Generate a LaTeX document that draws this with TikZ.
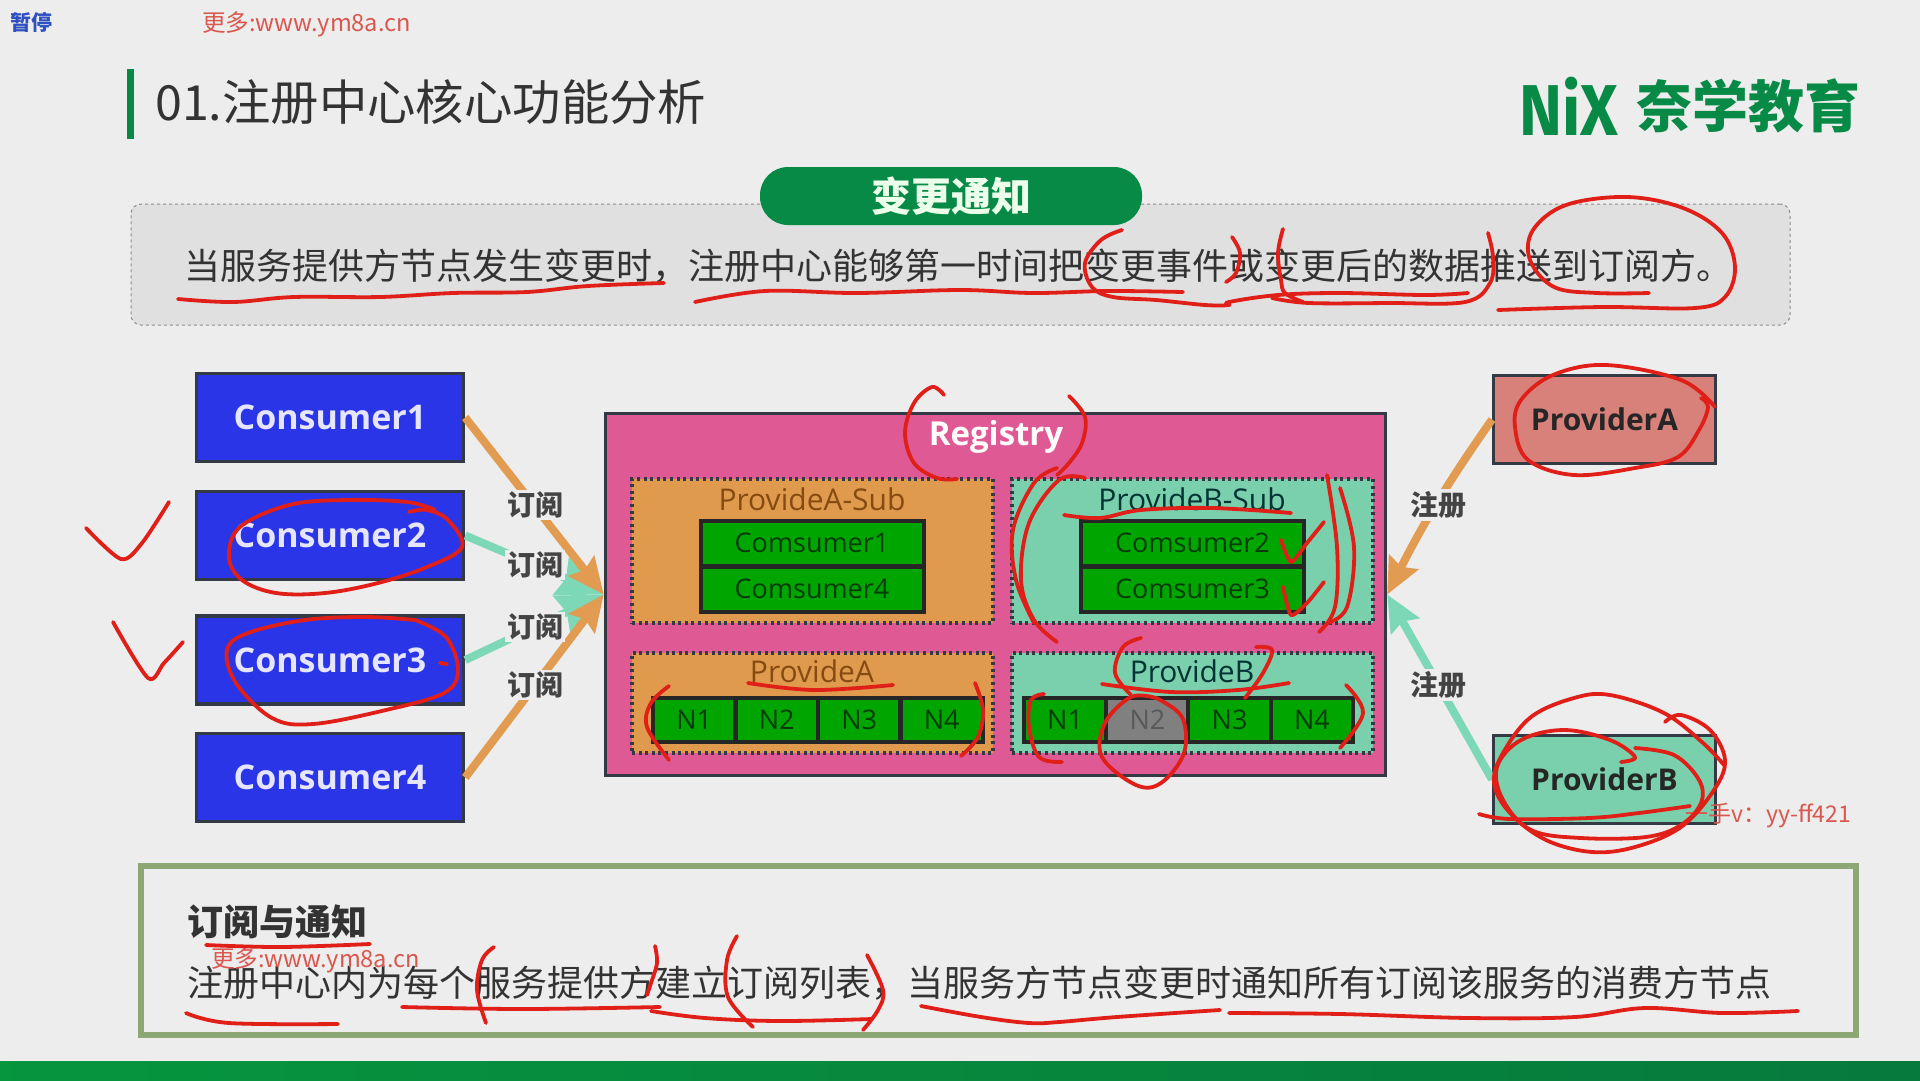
\documentclass[tikz,border=0pt]{standalone}
\usepackage{fontspec}
\usetikzlibrary{arrows.meta}
\setmainfont{Noto Sans CJK SC}
\newfontfamily\lat{Open Sans}
\newfontfamily\logofont{Fira Sans}
\newcommand\fsz[1]{\fontsize{#1}{#1}\selectfont}
\definecolor{pagebg}{HTML}{EDEDED}
\definecolor{boxbg}{HTML}{E0E0E0}
\definecolor{brandgreen}{HTML}{078A45}
\definecolor{inkred}{HTML}{DF1F18}
\definecolor{markred}{HTML}{D9574E}
\definecolor{txtdark}{HTML}{333333}
\definecolor{labeldark}{HTML}{444444}
\definecolor{edge}{HTML}{333A44}
\definecolor{blueN}{HTML}{2B35E8}
\definecolor{pinkN}{HTML}{DF5A95}
\definecolor{orangeN}{HTML}{E09A4E}
\definecolor{tealN}{HTML}{7AD0AC}
\definecolor{greenN}{HTML}{00A500}
\definecolor{greenT}{HTML}{033D05}
\definecolor{greyN}{HTML}{808080}
\definecolor{salmonN}{HTML}{D8807A}
\definecolor{oliveB}{HTML}{8EA875}
\definecolor{orangeA}{HTML}{E29C52}
\definecolor{tealA}{HTML}{7CD8B6}
\definecolor{pauseblue}{HTML}{2F50C0}
\tikzset{
  redink/.style={draw=inkred,line width=3.8,line cap=round,line join=round},
  consumerbox/.style={draw=edge,line width=3.5,fill=blueN,minimum width=267,minimum height=88,text=blue!10!white,font=\lat\bfseries\fsz{34}},
  providerbox/.style={draw=edge,line width=3,minimum width=222,minimum height=88,text=black!85,font=\lat\bfseries\fsz{30}},
  groupbox/.style={draw=edge,line width=3.5,dash pattern=on 3pt off 3.6pt,minimum width=361},
  memberbox/.style={draw=black!85,line width=4,fill=greenN,minimum width=223,minimum height=45,text=greenT,font=\lat\fsz{27}},
  cellbox/.style={draw=black!85,line width=4,fill=greenN,minimum width=82.4,minimum height=44,text=greenT,font=\lat\fsz{27}},
  grouplabel/.style={font=\lat\fsz{30}},
  linkarrow/.style={line width=8,-{Stealth[length=36pt,width=32pt,inset=5pt]}},
  tealarrow/.style={line width=8,-{Stealth[length=46pt,width=40pt,inset=5pt]}},
  linklabel/.style={fill=pagebg,inner sep=2pt,text=labeldark,font=\bfseries\fsz{28}},
  bodytext/.style={anchor=west,inner sep=0,text=txtdark,font=\fsz{36}},
  watermark/.style={inner sep=0,text=markred,font=\fsz{23.6}}
}
\begin{document}
\begin{tikzpicture}[x=1pt,y=-1pt]
\useasboundingbox (0,0) rectangle (1920,1080);
\fill[pagebg] (0,0) rectangle (1920,1080);
% header
\fill[brandgreen] (127,69) rectangle (134,139);
\node[anchor=west,inner sep=0,text=black!80,font=\fsz{48.4}] (title) at (155,102) {01.注册中心核心功能分析};
\node[inner sep=0,text=brandgreen,font=\logofont\bfseries\fsz{72},xscale=.9] (logoa) at (1569,106) {NiX};
\node[inner sep=0,text=brandgreen,font=\bfseries\fsz{56}] (logob) at (1748,106) {奈学教育};
% top panel
\node[draw=black!45,dashed,line width=1,fill=boxbg,rounded corners=10,minimum width=1659,minimum height=121] (panel) at (960.5,264.5) {};
\node[fill=brandgreen,rounded corners=28,minimum width=382,minimum height=58,inner sep=0,text=white!92!green,font=\bfseries\fsz{40}] (pill) at (951,196) {变更通知};
\node[bodytext] (lead) at (184,266) {当服务提供方节点发生变更时，注册中心能够第一时间把变更事件或变更后的数据推送到订阅方。};
% consumers
\node[consumerbox] (c1) at (330,417.5) {Consumer1};
\node[consumerbox] (c2) at (330,535.5) {Consumer2};
\node[consumerbox] (c3) at (330,660) {Consumer3};
\node[consumerbox] (c4) at (330,777.5) {Consumer4};
% registry
\node[draw=edge,line width=3.5,fill=pinkN,minimum width=780,minimum height=362] (reg) at (995.5,594.5) {};
\node[inner sep=0,text=white!95!pink,font=\lat\bfseries\fsz{33}] (regt) at (996,437) {Registry};
\node[groupbox,fill=orangeN,minimum height=144] (as) at (812.5,551) {};
\node[groupbox,fill=tealN,minimum height=144] (bs) at (1192.5,551) {};
\node[groupbox,fill=orangeN,minimum height=100] (ap) at (812.5,703) {};
\node[groupbox,fill=tealN,minimum height=100] (bp) at (1192.5,703) {};
\node[grouplabel,text=black!55!orange!75!brown] (ast) at (812,499) {ProvideA-Sub};
\node[grouplabel,text=black!60!teal] (bst) at (1192,499) {ProvideB-Sub};
\node[grouplabel,text=black!55!orange!75!brown] (apt) at (812,671) {ProvideA};
\node[grouplabel,text=black!60!teal] (bpt) at (1192,671) {ProvideB};
\node[memberbox] (m1) at (812,543) {Comsumer1};
\node[memberbox] (m4) at (812,589) {Comsumer4};
\node[memberbox] (m2) at (1192.5,543) {Comsumer2};
\node[memberbox] (m3) at (1192.5,589) {Comsumer3};
\node[cellbox] (a1) at (694.2,720) {N1};
\node[cellbox] (a2) at (776.7,720) {N2};
\node[cellbox] (a3) at (859.2,720) {N3};
\node[cellbox] (a4) at (941.7,720) {N4};
\node[cellbox] (b1) at (1065.1,720) {N1};
\node[cellbox,fill=greyN,text=black!65] (b2) at (1147.4,720) {N2};
\node[cellbox] (b3) at (1229.6,720) {N3};
\node[cellbox] (b4) at (1311.9,720) {N4};
% providers
\node[providerbox,fill=salmonN] (pa) at (1604.5,419.5) {ProviderA};
\node[providerbox,fill=tealN] (pb) at (1604.5,779.5) {ProviderB};
% arrows
\draw[tealarrow,tealA] (c2.east) -- (reg.west);
\draw[tealarrow,tealA] (c3.east) -- (reg.west);
\draw[linkarrow,orangeA] (c1.east) -- (reg.west);
\draw[linkarrow,orangeA] (c4.east) -- (reg.west);
\draw[linkarrow,orangeA] (pa.west) to[bend right=4] (reg.east);
\draw[linkarrow,tealA] (pb.west) -- (reg.east);
\node[linklabel] (l1) at (535,505) {订阅};
\node[linklabel] (l2) at (535,565) {订阅};
\node[linklabel] (l3) at (535,627) {订阅};
\node[linklabel] (l4) at (535,685) {订阅};
\node[linklabel] (l5) at (1438,505) {注册};
\node[linklabel] (l6) at (1438,685) {注册};
% bottom panel
\node[draw=oliveB,line width=6,fill=pagebg,minimum width=1715,minimum height=169] (note) at (998.5,950.5) {};
\node[bodytext,font=\bfseries\fsz{36}] (noteh) at (187,922) {订阅与通知};
\node[bodytext] (notet) at (187,983) {注册中心内为每个服务提供方建立订阅列表，当服务方节点变更时通知所有订阅该服务的消费方节点};
\shade[left color=brandgreen!90!green,right color=brandgreen!88!black] (0,1061) rectangle (1920,1080);
% marks
\node[inner sep=0,text=pauseblue,font=\bfseries\fsz{21}] (pause) at (31,22) {暂停};
\node[watermark,anchor=west] (wm1) at (202,24) {更多:www.ym8a.cn};
\node[watermark,anchor=west] (wm2) at (211,960) {更多:www.ym8a.cn};
\node[watermark,anchor=west,font=\fsz{23}] (wm3) at (1685,816) {一手v：yy-ff421};
% red ink: top sentence
\draw[redink] plot[smooth,tension=.6] coordinates {(178,299)(233,302)(294,297)(380,297)(453,293)(527,292)(588,286)(664,283)};
\draw[redink] plot[smooth,tension=.6] coordinates {(695,302)(765,291)(857,293)(960,290)(1033,293)(1107,291)(1183,292)};
\draw[redink] plot[smooth,tension=.6] coordinates {(1122,230)(1101,240)(1085,263)(1092,287)(1113,297)(1156,300)(1205,305)(1229,305)(1229,302)(1278,295)(1340,293)(1425,295)(1468,293)};
\draw[redink] plot[smooth,tension=.6] coordinates {(1272,298)(1309,303)(1389,303)(1465,302)(1490,283)(1493,257)(1488,233)};
\draw[redink] plot[smooth,tension=.6] coordinates {(1232,237)(1240,253)(1236,273)(1226,282)};
\draw[redink] plot[smooth,tension=.6] coordinates {(1283,229)(1278,253)(1281,280)(1285,293)(1303,302)};
\draw[redink] plot[smooth,tension=.6] coordinates {(1649,293)(1597,293)(1554,287)(1530,260)(1533,230)(1566,205)(1627,197)(1683,208)(1722,233)(1735,267)(1725,297)(1695,308)(1603,307)(1498,310)};
% red ink: consumers
\draw[redink] plot[smooth,tension=.5] coordinates {(86,528)(121,559)(142,543)(169,502)};
\draw[redink] plot[smooth,tension=.5] coordinates {(113,622)(148,678)(164,663)(183,642)};
\draw[redink] plot[smooth,tension=.6] coordinates {(435,510)(407,502)(346,500)(289,505)(240,527)(229,557)(242,580)(276,593)(325,593)(378,583)(427,567)(462,547)(448,520)(427,510)(409,512)};
\draw[redink] plot[smooth,tension=.6] coordinates {(415,620)(366,617)(305,620)(248,633)(227,650)(236,683)(272,718)(313,724)(386,710)(444,693)(458,670)(446,637)(415,620)};
\draw[redink] (440,663) -- (447,664);
% red ink: registry
\draw[redink] plot[smooth,tension=.6] coordinates {(944,395)(932,387)(914,403)(905,433)(914,463)(937,478)(957,479)};
\draw[redink] plot[smooth,tension=.6] coordinates {(1069,396)(1085,417)(1082,443)(1069,463)(1057,475)};
\draw[redink] plot[smooth,tension=.6] coordinates {(1057,468)(1034,483)(1013,530)(1016,580)(1034,623)};
\draw[redink] plot[smooth,tension=.6] coordinates {(1085,478)(1059,480)(1029,523)(1021,580)(1034,620)(1057,642)};
\draw[redink] plot[smooth,tension=.6] coordinates {(1064,515)(1100,518)(1141,510)(1212,508)(1291,513)};
\draw[redink] plot[smooth,tension=.4] coordinates {(1281,540)(1291,562)(1307,543)(1324,522)};
\draw[redink] plot[smooth,tension=.4] coordinates {(1283,587)(1291,615)(1307,603)(1324,582)};
\draw[redink] plot[smooth,tension=.6] coordinates {(1327,475)(1337,547)(1335,607)(1319,632)};
\draw[redink] plot[smooth,tension=.6] coordinates {(1340,488)(1354,547)(1347,607)(1327,623)};
\draw[redink] plot[smooth,tension=.6] coordinates {(748,683)(814,690)(893,685)};
\draw[redink] plot[smooth,tension=.6] coordinates {(669,686)(651,703)(647,727)(669,760)};
\draw[redink] plot[smooth,tension=.6] coordinates {(975,683)(983,710)(978,737)(961,756)};
\draw[redink] plot[smooth,tension=.6] coordinates {(1141,638)(1123,647)(1115,673)(1131,695)};
\draw[redink] plot[smooth,tension=.6] coordinates {(1256,647)(1272,650)(1263,673)(1245,698)};
\draw[redink] plot[smooth,tension=.6] coordinates {(1102,684)(1171,692)(1238,690)(1289,683)};
\draw[redink] plot[smooth,tension=.6] coordinates {(1044,694)(1031,700)(1029,727)(1039,757)(1062,762)};
\draw[redink] plot[smooth,tension=.6] coordinates {(1346,685)(1363,713)(1340,748)};
\draw[redink] plot[smooth,tension=.6] coordinates {(1156,698)(1131,697)(1105,723)(1102,757)(1136,785)(1161,783)(1184,753)(1182,717)(1156,698)};
% red ink: providers
\draw[redink] plot[smooth,tension=.6] coordinates {(1715,407)(1681,380)(1606,365)(1553,375)(1521,400)(1515,427)(1528,460)(1574,475)(1635,468)(1678,457)(1699,430)(1708,407)(1701,398)};
\draw[redink] plot[smooth,tension=.6] coordinates {(1665,722)(1681,715)(1710,730)(1725,760)(1714,790)(1681,827)(1635,847)(1592,852)(1546,840)(1510,813)(1494,783)(1503,753)(1531,717)(1574,698)(1610,695)(1664,713)(1703,743)(1724,765)};
\draw[redink] plot[smooth,tension=.6] coordinates {(1621,762)(1635,757)(1610,740)(1564,730)(1521,740)(1497,767)(1503,800)(1531,830)(1581,838)(1646,837)(1681,825)(1701,803)(1699,780)(1674,755)(1635,748)};
\draw[redink] plot[smooth,tension=.6] coordinates {(1479,814)(1510,819)(1589,818)(1639,813)(1690,806)};
% red ink: bottom
\draw[redink] plot[smooth,tension=.6] coordinates {(206,945)(281,947)(370,944)};
\draw[redink] plot[smooth,tension=.6] coordinates {(186,1013)(229,1023)(338,1024)};
\draw[redink] plot[smooth,tension=.6] coordinates {(402,1007)(522,1009)(660,1007)};
\draw[redink] plot[smooth,tension=.6] coordinates {(651,1011)(705,1018)(780,1021)(872,1019)};
\draw[redink] plot[smooth,tension=.6] coordinates {(494,947)(482,960)(477,990)(486,1023)};
\draw[redink] plot[smooth,tension=.6] coordinates {(655,946)(657,963)(651,983)(647,995)};
\draw[redink] plot[smooth,tension=.6] coordinates {(737,936)(727,960)(728,997)(753,1027)};
\draw[redink] plot[smooth,tension=.6] coordinates {(867,955)(883,990)(878,1010)(863,1030)};
\draw[redink] plot[smooth,tension=.6] coordinates {(921,1006)(981,1017)(1029,1023)(1059,1022)(1117,1017)(1220,1010)};
\draw[redink] plot[smooth,tension=.6] coordinates {(1229,1013)(1340,1014)(1469,1018)(1575,1017)(1645,1008)(1722,1013)(1798,1011)};
\end{tikzpicture}
\end{document}
